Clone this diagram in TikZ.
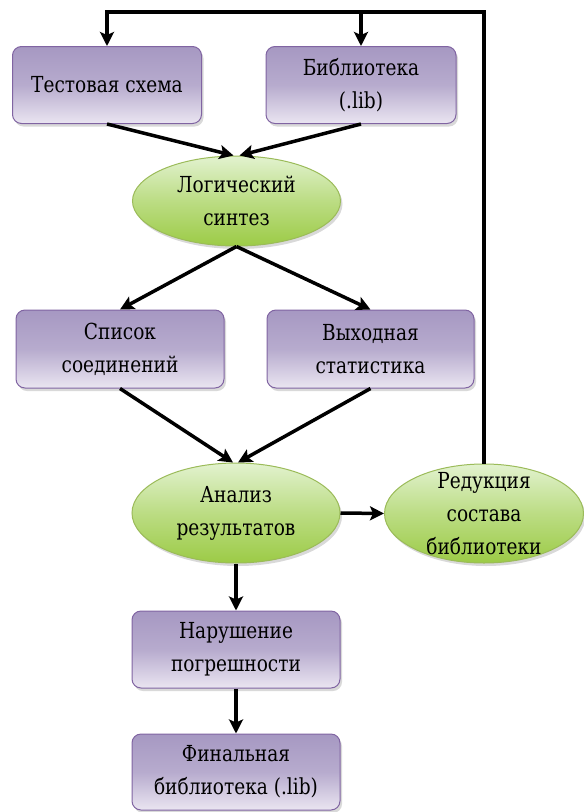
\documentclass[tikz,border=0pt]{standalone}
\usepackage{fontspec}
\newfontfamily\labelfont{DejaVu Serif}[Scale=0.92,FakeStretch=0.84]
\usetikzlibrary{arrows.meta,shapes.geometric,shadows,calc}

\definecolor{boxtop}{RGB}{166,152,194}
\definecolor{boxbot}{RGB}{234,229,241}
\definecolor{boxline}{RGB}{128,100,162}
\definecolor{elltop}{RGB}{226,242,207}
\definecolor{ellbot}{RGB}{156,203,70}
\definecolor{ellline}{RGB}{155,187,89}

\tikzset{
  block/.style={rectangle, rounded corners=9pt, draw=boxline, line width=1pt,
    top color=boxtop, bottom color=boxbot, middle color=boxtop!75!boxbot,
    align=center, font=\labelfont\fontsize{24}{33}\selectfont,
    drop shadow={shadow xshift=2pt, shadow yshift=-3pt, opacity=0.3}},
  oval/.style={ellipse, draw=ellline, line width=1pt,
    top color=elltop, bottom color=ellbot, middle color=elltop!45!ellbot,
    align=center, inner sep=0pt, font=\labelfont\fontsize{24}{33}\selectfont,
    drop shadow={shadow xshift=2pt, shadow yshift=-3pt, opacity=0.3}},
  arr/.style={-{Stealth[length=14pt,width=14pt,inset=3pt]}, line width=3.5pt},
}

\begin{document}
\begin{tikzpicture}[x=1pt,y=-1pt]
\useasboundingbox (0,0) rectangle (584,812);

% boxes and ovals
\node[block, minimum width=189pt, minimum height=77pt] (test) at (107,85) {Тестовая схема};
\node[block, minimum width=190pt, minimum height=77pt] (lib) at (361,85) {Библиотека\\(.lib)};
\node[oval, minimum width=208pt, minimum height=90pt] (synth) at (236.5,201) {Логический\\синтез};
\node[block, minimum width=208pt, minimum height=78pt] (netlist) at (120,349) {Список\\соединений};
\node[block, minimum width=207pt, minimum height=78pt] (stat) at (370.5,349) {Выходная\\статистика};
\node[oval, minimum width=208pt, minimum height=100pt] (anal) at (236,513) {Анализ\\результатов};
\node[oval, minimum width=199pt, minimum height=99pt, inner ysep=-16pt] (reduce) at (484,513.5) {Редукция\\состава\\библиотеки};
\node[block, minimum width=208pt, minimum height=77pt] (viol) at (236,649.5) {Нарушение\\погрешности};
\node[block, minimum width=208pt, minimum height=76pt] (final) at (236,772) {Финальная\\библиотека (.lib)};

\coordinate (top) at (0,12);

% connectors
\draw[arr] (test.south) -- ([xshift=-3pt]synth.north);
\draw[arr] (lib.south) -- ([xshift=3pt]synth.north);
\draw[arr] (synth.south) -- (netlist.north);
\draw[arr] (synth.south) -- (stat.north);
\draw[arr] (netlist.south) -- ([xshift=-3pt]anal.north);
\draw[arr] (stat.south) -- ([xshift=2pt]anal.north);
\draw[arr] (anal.east) -- (reduce.west);
\draw[arr] (anal.south) -- (viol.north);
\draw[arr] (viol.south) -- (final.north);
\draw[arr] (reduce.north) |- (top -| test.north) -- (test.north);
\draw[arr] (top -| lib.north) -- (lib.north);
\end{tikzpicture}
\end{document}
